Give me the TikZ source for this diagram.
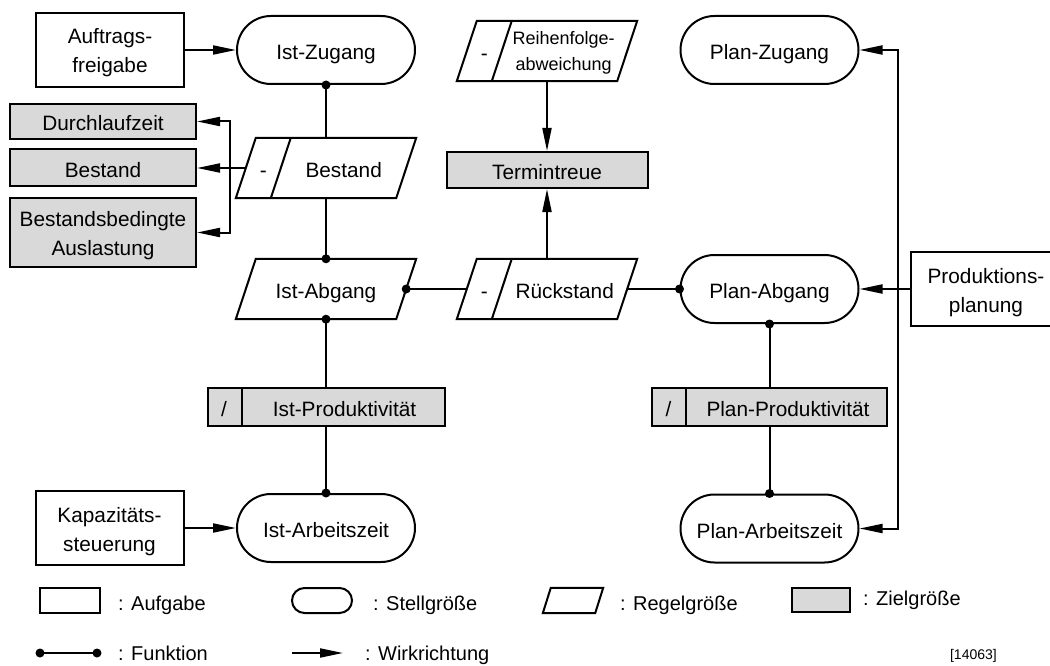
\documentclass[tikz,border=0pt]{standalone}
\usepackage{fontspec}
\setmainfont{Liberation Sans}
\usetikzlibrary{arrows.meta,calc}
\definecolor{zielgrau}{RGB}{217,217,217}
\newcommand{\hauptschrift}{\fontsize{20.8}{29}\selectfont}
\newcommand{\kleinschrift}{\fontsize{18}{26}\selectfont}
\newcommand{\legschrift}{\fontsize{20}{24}\selectfont}
% parallelogram (Regelgröße) around an invisible node; #2 = half the slant
\newcommand{\drawregel}[2]{%
  \draw[ln] ($(#1.south west)+(-#2,0)$) -- ($(#1.north west)+(#2,0)$)
    -- ($(#1.north east)+(#2,0)$) -- ($(#1.south east)+(-#2,0)$) -- cycle;}
% separator of the small left cell in a parallelogram
\newcommand{\drawteiler}[1]{%
  \draw[ln] ($(#1.north west)+(45,0)$) -- ($(#1.south west)+(25,0)$);}
\begin{document}
\begin{tikzpicture}[x=1pt,y=-1pt,
  ln/.style={line width=2pt},
  wirk/.style={ln,-{Triangle[length=23pt,width=9pt]}},
  dot/.style={fill=black},
  tb/.style={text height=21pt,text depth=2pt},
  tbzwei/.style={text height=48pt,text depth=2pt},
  txt/.style={tb,font=\hauptschrift,inner sep=0pt,align=center},
  aufgabe/.style={draw,ln,fill=white,minimum width=148pt,minimum height=74pt,
    inner sep=0pt,align=center,font=\hauptschrift,tbzwei},
  stell/.style={draw,ln,fill=white,rounded corners=34pt,minimum width=178pt,
    minimum height=68pt,inner sep=0pt,font=\hauptschrift,tb},
  regel/.style={minimum width=160pt,minimum height=60pt,inner sep=0pt,
    font=\hauptschrift,tb},
  ziel/.style={draw,ln,fill=zielgrau,inner sep=0pt,align=center,
    font=\hauptschrift,tb},
  legtext/.style={anchor=base west,inner sep=0pt,font=\legschrift}]
\clip (0,0) rectangle (1050,666);
\fill[white] (0,0) rectangle (1050,666);

% Aufgaben
\node[aufgabe] (afg) at (110,50) {Auftrags-\\freigabe};
\node[aufgabe] (kap) at (109.5,528) {Kapazitäts-\\steuerung};
\node[aufgabe,minimum width=150pt] (prod) at (986,289) {Produktions-\\planung};

% Stellgrößen
\node[stell] (izu) at (326,50) {Ist-Zugang};
\node[stell] (iaz) at (326,528) {Ist-Arbeitszeit};
\node[stell] (pzu) at (769.5,50) {Plan-Zugang};
\node[stell] (pab) at (769.5,289) {Plan-Abgang};
\node[stell] (paz) at (769.5,528.5) {Plan-Arbeitszeit};

% Regelgrößen
\node[regel] (ibe) at (326,168) {};
\node[regel] (iab) at (326,289) {Ist-Abgang};
\node[regel] (rst) at (547,289) {};
\node[regel] (rfa) at (547,51) {};
\drawregel{ibe}{10}
\drawregel{iab}{10}
\drawregel{rst}{10}
\drawregel{rfa}{10}
\drawteiler{ibe}
\drawteiler{rst}
\drawteiler{rfa}
\node[txt] (ibe-m) at ($(ibe.west)+(17.5,0)$) {-};
\node[txt] (ibe-t) at ($(ibe.east)+(-62.5,0)$) {Bestand};
\node[txt] (rst-m) at ($(rst.west)+(17.5,0)$) {-};
\node[txt] (rst-t) at ($(rst.east)+(-62.5,0)$) {Rückstand};
\node[txt] (rfa-m) at ($(rfa.west)+(17.5,0)$) {-};
\node[txt,font=\kleinschrift,text height=42pt,text depth=2pt] (rfa-t)
  at ($(rfa.east)+(-63.5,0)$) {Reihenfolge-\\abweichung};

% Zielgrößen
\node[ziel,minimum width=186pt,minimum height=35pt] (zdl) at (103,121.5) {Durchlaufzeit};
\node[ziel,minimum width=186pt,minimum height=37pt] (zbe) at (103,168) {Bestand};
\node[ziel,tbzwei,minimum width=186pt,minimum height=69pt] (zba) at (103,232.5) {Bestandsbedingte\\Auslastung};
\node[ziel,minimum width=201pt,minimum height=36pt] (ztt) at (547,170) {Termintreue};
\node[ziel,minimum width=237pt,minimum height=38pt] (ipr) at (326,407) {};
\node[ziel,minimum width=235pt,minimum height=38pt] (ppr) at (769.5,407) {};
\draw[ln] ($(ipr.north west)+(35,0)$) -- ($(ipr.south west)+(35,0)$);
\draw[ln] ($(ppr.north west)+(35,0)$) -- ($(ppr.south west)+(35,0)$);
\node[txt] (ipr-s) at ($(ipr.west)+(17.5,0)$) {/};
\node[txt] (ipr-t) at ($(ipr.east)+(-101,0)$) {Ist-Produktivität};
\node[txt] (ppr-s) at ($(ppr.west)+(17.5,0)$) {/};
\node[txt] (ppr-t) at ($(ppr.east)+(-100,0)$) {Plan-Produktivität};

% Funktionen
\draw[ln] (izu.south) -- (ibe.north);
\draw[ln] (ibe.south) -- (iab.north);
\draw[ln] (iab.east) -- (rst.west);
\draw[ln] (rst.east) -- (pab.west);
\draw[ln] (iab.south) -- (ipr.north);
\draw[ln] (ipr.south) -- (iaz.north);
\draw[ln] (pab.south) -- (ppr.north);
\draw[ln] (ppr.south) -- (paz.north);
\foreach \p in {izu.south,iab.north,iab.east,pab.west,iab.south,iaz.north,pab.south,paz.north}
  \fill[dot] (\p) circle[radius=4.5pt];

% Wirkrichtungen
\draw[wirk] (afg.east) -- (izu.west);
\draw[wirk] (kap.east) -- (iaz.west);
\draw[wirk] (rfa.south) -- (ztt.north);
\draw[wirk] (rst.north) -- (ztt.south);
\draw[wirk] (ibe.west) -- (zbe.east);
\coordinate (brk) at (230,168);
\draw[wirk] (brk) |- (zdl.east);
\draw[wirk] (brk) |- (zba.east);
\coordinate (pv) at (898,289);
\draw[ln] (prod.west) -- (pv);
\draw[wirk] (pv) |- (pzu.east);
\draw[wirk] (pv) -- (pab.east);
\draw[wirk] (pv) |- (paz.east);

% Legende
\node[draw,ln,minimum width=60pt,minimum height=25pt,inner sep=0pt] (lga) at (70,600.5) {};
\node[legtext] (lta) at (118,610) {: Aufgabe};
\node[draw,ln,rounded corners=12.5pt,minimum width=60pt,minimum height=25pt,inner sep=0pt] (lgs) at (322,600.5) {};
\node[legtext] (lts) at (373,610) {: Stellgröße};
\node[minimum width=52pt,minimum height=25pt,inner sep=0pt] (lgr) at (573,600.5) {};
\drawregel{lgr}{4}
\node[legtext] (ltr) at (620,610) {: Regelgröße};
\node[draw,ln,fill=zielgrau,minimum width=58pt,minimum height=24pt,inner sep=0pt] (lgz) at (821,600) {};
\node[legtext] (ltz) at (863,605) {: Zielgröße};
\coordinate (lf1) at (40,653);
\coordinate (lf2) at (97,653);
\draw[ln] (lf1) -- (lf2);
\fill[dot] (lf1) circle[radius=4.5pt];
\fill[dot] (lf2) circle[radius=4.5pt];
\node[legtext] (ltf) at (118,660) {: Funktion};
\coordinate (lw1) at (292,653);
\coordinate (lw2) at (343,653);
\draw[wirk] (lw1) -- (lw2);
\node[legtext] (ltw) at (365,660) {: Wirkrichtung};
\node[anchor=base east,inner sep=0pt,font=\fontsize{14}{16}\selectfont] (nr) at (997,659) {[14063]};
\end{tikzpicture}
\end{document}
